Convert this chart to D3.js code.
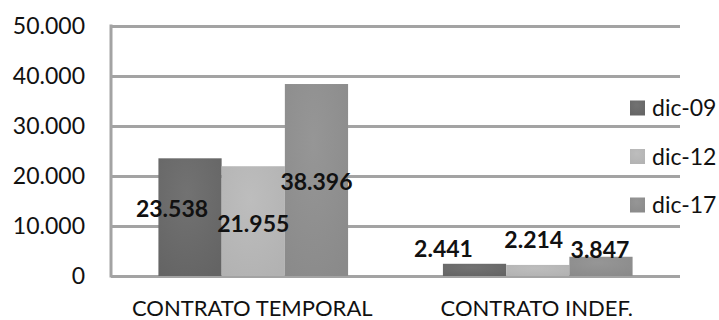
<!DOCTYPE html>
<html>
<head>
<meta charset="utf-8">
<script src="https://cdn.jsdelivr.net/npm/d3@7"></script>
<style>
  html, body { margin: 0; padding: 0; background: #ffffff; }
  svg { display: block; }
  text { font-family: Lato, "Open Sans", sans-serif; fill: #111; }
</style>
</head>
<body>
<svg id="chart" width="719" height="320"></svg>
<script>
// Contratos por tipo y fecha
const categories = ["CONTRATO TEMPORAL", "CONTRATO INDEF."];
const seriesNames = ["dic-09", "dic-12", "dic-17"];
const dic09 = [23538, 2441];
const dic12 = [21955, 2214];
const dic17 = [38396, 3847];
const yTicks = [0, 10000, 20000, 30000, 40000, 50000];

const seriesValues = [dic09, dic12, dic17];
const colors = ["#646464", "#b2b2b2", "#8a8a8a"];
const colorsLight = ["#727272", "#bdbdbd", "#969696"];

// Manual nudges for data labels (px, relative to bar centre / bar top)
const labelNudge = [
  [[-18, 59], [-31, -7]],
  [[0, 66], [-4, -17]],
  [[0, 106], [-1, 1]]
];

const svg = d3.select("#chart");
const plotL = 111, plotR = 680, plotT = 26, plotB = 276;

const es = d3.formatLocale({ decimal: ",", thousands: ".", grouping: [3], currency: ["", " €"] });
const fmt = es.format(",");

const y = d3.scaleLinear().domain([0, 50000]).range([plotB, plotT]);
const x = d3.scaleBand().domain(categories).range([plotL, plotR]).padding(0);
const barW = x.bandwidth() / 4.5;
const x1 = d3.scaleBand().domain(seriesNames).range([-1.5 * barW, 1.5 * barW]).padding(0);

// gradients for the bar fills
const defs = svg.append("defs");
seriesNames.forEach((s, i) => {
  const g = defs.append("radialGradient")
    .attr("id", "g" + i).attr("cx", "45%").attr("cy", "30%").attr("r", "80%");
  g.append("stop").attr("offset", "0%").attr("stop-color", colorsLight[i]);
  g.append("stop").attr("offset", "100%").attr("stop-color", colors[i]);
});

// horizontal gridlines
const yAxis = d3.axisLeft(y).tickValues(yTicks).tickSize(-(plotR - plotL)).tickFormat(fmt).tickPadding(26);
const ga = svg.append("g").attr("transform", `translate(${plotL},0)`).call(yAxis);
ga.select(".domain").remove();
ga.selectAll(".tick line").attr("stroke", "#a3a3a3").attr("stroke-width", 3);
ga.selectAll(".tick text").attr("font-size", 23).attr("fill", "#111")
  .style("font-family", "Lato, 'Open Sans', sans-serif");

// vertical axis line
svg.append("line").attr("x1", plotL).attr("x2", plotL).attr("y1", plotT - 1.5).attr("y2", plotB + 1.5)
  .attr("stroke", "#a3a3a3").attr("stroke-width", 3);

// bars
seriesNames.forEach((s, i) => {
  svg.append("g").selectAll("rect").data(categories).join("rect")
    .attr("x", c => x(c) + x.bandwidth() / 2 + x1(s))
    .attr("width", x1.bandwidth())
    .attr("y", (c, j) => y(seriesValues[i][j]))
    .attr("height", (c, j) => y(0) - y(seriesValues[i][j]))
    .attr("fill", `url(#g${i})`);
});

// data labels
seriesNames.forEach((s, i) => {
  svg.append("g").selectAll("text").data(categories).join("text")
    .attr("x", (c, j) => x(c) + x.bandwidth() / 2 + x1(s) + x1.bandwidth() / 2 + labelNudge[i][j][0])
    .attr("y", (c, j) => y(seriesValues[i][j]) + labelNudge[i][j][1])
    .attr("text-anchor", "middle")
    .attr("font-size", 23).attr("font-weight", "bold")
    .text((c, j) => fmt(seriesValues[i][j]));
});

// category labels
svg.append("g").selectAll("text").data(categories).join("text")
  .attr("x", c => x(c) + x.bandwidth() / 2 - 1)
  .attr("y", 316)
  .attr("text-anchor", "middle")
  .attr("font-size", 22)
  .text(c => c);

// legend
const lg = svg.append("g").attr("transform", "translate(630,0)");
seriesNames.forEach((s, i) => {
  const cy = 108 + i * 48.5;
  lg.append("rect").attr("x", 0).attr("y", cy - 7.5).attr("width", 15).attr("height", 15)
    .attr("fill", `url(#g${i})`);
  lg.append("text").attr("x", 22).attr("y", cy + 8).attr("font-size", 23).text(s);
});
</script>
</body>
</html>
